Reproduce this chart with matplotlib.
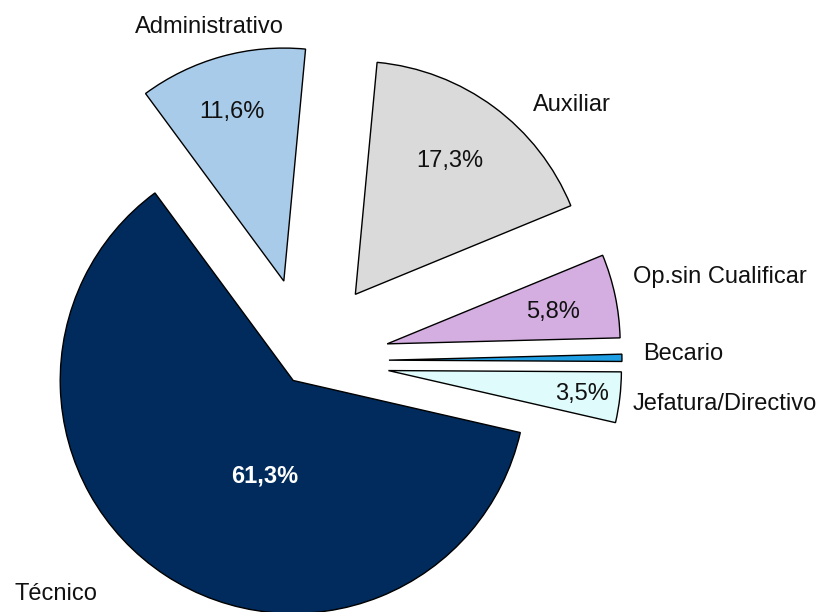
import matplotlib.pyplot as plt

plt.rcParams['font.family'] = ['Liberation Sans', 'DejaVu Sans']

# datos (orden antihorario desde Técnico)
categorias = ['Técnico', 'Jefatura/Directivo', 'Becario', 'Op.sin Cualificar',
              'Auxiliar', 'Administrativo']
porcentajes = [61.3, 3.5, 0.5, 5.8, 17.3, 11.6]
etiquetas_pct = ['61,3%', '3,5%', '', '5,8%', '17,3%', '11,6%']
colores = ['#002b5c', '#dffbfb', '#1e9fe3', '#d4aee0', '#dadada', '#a9cbea']
separacion = [0.10, 0.356, 0.356, 0.356, 0.356, 0.356]

# posiciones de texto en pixeles (x, y de la linea base)
pos_pct = [(265, 482), (582, 400), None, (553, 318), (450, 167), (232, 118)]
pos_cat = [(15, 600, 'left'), (633, 410, 'left'), (643, 360, 'left'),
           (633, 283, 'left'), (533, 111, 'left'), (209, 33, 'center')]

W, H = 823, 612
cx, cy, R = 306, 361, 233  # centro y radio en pixeles

fig = plt.figure(figsize=(W / 100, H / 100), dpi=100)
ax = fig.add_axes([0, 0, 1, 1])

ax.pie(porcentajes, explode=separacion, colors=colores, startangle=126.4,
       counterclock=True, radius=1, center=(0, 0),
       wedgeprops=dict(edgecolor='black', linewidth=1.0))

ax.set_xlim((0 - cx) / R, (W - cx) / R)
ax.set_ylim((cy - H) / R, cy / R)
ax.set_aspect('equal')
ax.axis('off')


def px(x, y):
    return x / W, 1 - y / H


for i, txt in enumerate(etiquetas_pct):
    if pos_pct[i] is None:
        continue
    x, y = px(*pos_pct[i])
    blanco = i == 0
    fig.text(x, y, txt, ha='center', va='baseline', fontsize=17,
             color='white' if blanco else '#111111',
             fontweight='bold' if blanco else 'normal')

for i, nombre in enumerate(categorias):
    xx, yy, al = pos_cat[i]
    x, y = px(xx, yy)
    fig.text(x, y, nombre, ha=al, va='baseline', fontsize=17, color='#111111')

fig.savefig('out.png', dpi=100)
